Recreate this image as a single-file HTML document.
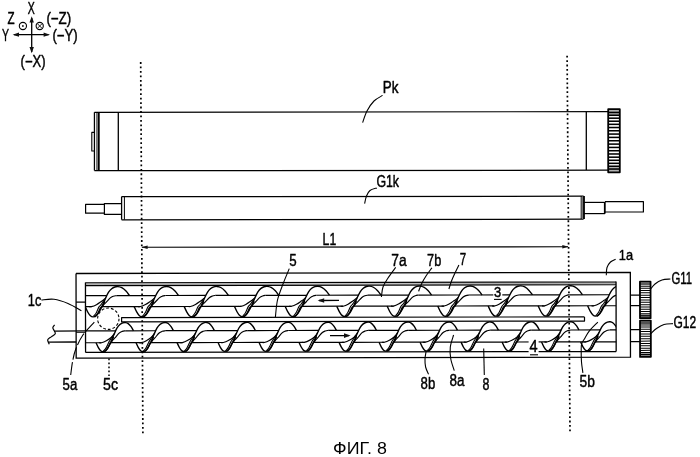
<!DOCTYPE html>
<html lang="ru"><head><meta charset="utf-8"><title>ФИГ. 8</title>
<style>
html,body{margin:0;padding:0;background:#fff;}
body{width:700px;height:457px;overflow:hidden;}
svg{display:block;filter:grayscale(1);}
svg *{vector-effect:none;}
.d{fill:none;stroke:#000;stroke-linecap:butt;stroke-linejoin:round;}
.d text{fill:#000;stroke:#000;stroke-width:0.45px;font-family:"Liberation Sans",sans-serif;}
</style></head><body>
<svg width="700" height="457" viewBox="0 0 700 457">
<rect x="0" y="0" width="700" height="457" fill="#fff"/>
<g class="d">
<line x1="31.7" y1="18" x2="31.7" y2="52" stroke-width="1.3" />
<path d="M31.7,16.3 L29.5,22.5 L33.9,22.5 Z" fill="#111" stroke="none"/>
<path d="M31.7,53.3 L29.5,47 L33.9,47 Z" fill="#111" stroke="none"/>
<line x1="14" y1="34.7" x2="48.5" y2="34.7" stroke-width="1.3" />
<path d="M12.6,34.7 L19,32.6 L19,36.8 Z" fill="#111" stroke="none"/>
<path d="M50,34.7 L43.6,32.6 L43.6,36.8 Z" fill="#111" stroke="none"/>
<circle cx="22.9" cy="26" r="3.6" stroke-width="1.1"/>
<circle cx="22.9" cy="26" r="0.9" fill="#111" stroke="none"/>
<circle cx="39.7" cy="26" r="3.6" stroke-width="1.1"/>
<line x1="37.5" y1="23.8" x2="41.9" y2="28.2" stroke-width="0.9" />
<line x1="37.5" y1="28.2" x2="41.9" y2="23.8" stroke-width="0.9" />
<text transform="translate(27.8,13.6) scale(0.646,1)" font-size="16.29">X</text>
<text transform="translate(7.4,24.2) scale(0.715,1)" font-size="16.29">Z</text>
<text transform="translate(46.4,24.2) scale(0.819,1)" font-size="16.29">(−Z)</text>
<text transform="translate(2.1,41.4) scale(0.646,1)" font-size="16.29">Y</text>
<text transform="translate(52.4,41.4) scale(0.808,1)" font-size="16.29">(−Y)</text>
<text transform="translate(20.6,66.5) scale(0.802,1)" font-size="16.29">(−X)</text>
<line x1="140.7" y1="62.1" x2="142.9" y2="434" stroke-width="1.7" stroke-dasharray="1.8 2.65"/>
<line x1="567.1" y1="55.7" x2="570" y2="432" stroke-width="1.7" stroke-dasharray="1.8 2.65"/>
<line x1="94.4" y1="112.3" x2="608" y2="111.6" stroke-width="1.2" />
<line x1="94.4" y1="170.7" x2="608" y2="170.2" stroke-width="1.2" />
<line x1="94.4" y1="112.3" x2="94.4" y2="170.6" stroke-width="1.2" />
<line x1="98.6" y1="112.3" x2="98.6" y2="170.6" stroke-width="2.2" />
<line x1="96.4" y1="112.3" x2="96.4" y2="170.6" stroke-width="0.6" />
<line x1="118.3" y1="112.3" x2="118.3" y2="170.5" stroke-width="1.3" />
<path d="M94.4,132.4 L91.8,132.4 L91.8,151 L94.4,151" stroke-width="1.1" />
<line x1="586.3" y1="111.8" x2="586.3" y2="170" stroke-width="1.3" />
<rect x="608.2" y="109.2" width="11.6" height="63.1" fill="#fff" stroke-width="1.8"/>
<line x1="608.2" y1="112.46" x2="619.8" y2="112.46" stroke-width="1.55" />
<line x1="608.2" y1="115.26" x2="619.8" y2="115.26" stroke-width="1.55" />
<line x1="608.2" y1="118.18" x2="619.8" y2="118.18" stroke-width="1.55" />
<line x1="608.2" y1="121.21" x2="619.8" y2="121.21" stroke-width="1.55" />
<line x1="608.2" y1="124.32" x2="619.8" y2="124.32" stroke-width="1.55" />
<line x1="608.2" y1="127.52" x2="619.8" y2="127.52" stroke-width="1.55" />
<line x1="608.2" y1="130.77" x2="619.8" y2="130.77" stroke-width="1.55" />
<line x1="608.2" y1="134.07" x2="619.8" y2="134.07" stroke-width="1.55" />
<line x1="608.2" y1="137.4" x2="619.8" y2="137.4" stroke-width="1.55" />
<line x1="608.2" y1="140.75" x2="619.8" y2="140.75" stroke-width="1.55" />
<line x1="608.2" y1="144.1" x2="619.8" y2="144.1" stroke-width="1.55" />
<line x1="608.2" y1="147.43" x2="619.8" y2="147.43" stroke-width="1.55" />
<line x1="608.2" y1="150.73" x2="619.8" y2="150.73" stroke-width="1.55" />
<line x1="608.2" y1="153.98" x2="619.8" y2="153.98" stroke-width="1.55" />
<line x1="608.2" y1="157.18" x2="619.8" y2="157.18" stroke-width="1.55" />
<line x1="608.2" y1="160.29" x2="619.8" y2="160.29" stroke-width="1.55" />
<line x1="608.2" y1="163.32" x2="619.8" y2="163.32" stroke-width="1.55" />
<line x1="608.2" y1="166.24" x2="619.8" y2="166.24" stroke-width="1.55" />
<line x1="608.2" y1="169.04" x2="619.8" y2="169.04" stroke-width="1.55" />
<rect x="608.2" y="109.2" width="11.6" height="6.31" fill="#000" stroke="none" opacity="0.3"/>
<rect x="608.2" y="165.99" width="11.6" height="6.31" fill="#000" stroke="none" opacity="0.3"/>
<text transform="translate(382.8,93.3) scale(0.824,1)" font-size="16.29">Pk</text>
<path d="M382.6,95.4 C381.17,96.33 376.6,98.4 374,101 C371.4,103.6 368.9,107.4 367,111 C365.1,114.6 363.33,120.67 362.6,122.6" stroke-width="1.1" />
<line x1="121.6" y1="196.7" x2="583.6" y2="196.2" stroke-width="1.3" />
<line x1="121.6" y1="219.8" x2="583.6" y2="219.2" stroke-width="1.3" />
<line x1="121.6" y1="196.6" x2="121.6" y2="219.7" stroke-width="1.3" />
<line x1="124.4" y1="196.6" x2="124.4" y2="219.7" stroke-width="1.0" />
<path d="M121.6,203.6 L104.4,203.6 L104.4,214.4 L121.6,214.4" stroke-width="1.2" />
<path d="M104.4,204.4 L85.6,204.4 L85.6,213.2 L104.4,213.2" stroke-width="1.2" />
<line x1="583.9" y1="196" x2="583.9" y2="219" stroke-width="2.0" />
<line x1="581.2" y1="196" x2="581.2" y2="219" stroke-width="1.0" />
<line x1="582.5" y1="196.5" x2="582.5" y2="218.8" stroke-width="1.2" stroke="#777"/>
<path d="M583.6,202.4 L605,202.4" stroke-width="1.2" />
<path d="M583.6,213.6 L605,213.6" stroke-width="1.2" />
<line x1="604.8" y1="202" x2="604.8" y2="213.6" stroke-width="1.8" />
<path d="M605,201.6 L643.4,201.6 L643.4,212 L605,212" stroke-width="1.2" />
<text transform="translate(376.4,187.2) scale(0.758,1)" font-size="16.29">G1k</text>
<path d="M376.9,187.9 C375.75,188.33 371.73,189.15 370,190.5 C368.27,191.85 367.4,193.82 366.5,196 C365.6,198.18 364.92,202.33 364.6,203.6" stroke-width="1.1" />
<line x1="142" y1="247.3" x2="568" y2="246.8" stroke-width="1.1" />
<path d="M141.4,247.3 L147.6,245.5 L147.6,249.1 Z" fill="#111" stroke="none"/>
<path d="M568.5,246.8 L562.3,245 L562.3,248.6 Z" fill="#111" stroke="none"/>
<text transform="translate(322.6,244.7) scale(0.752,1)" font-size="16.29">L1</text>
<g transform="rotate(-0.1 350 315)">
<path d="M76.1,273 L630.4,273 L630.4,357.7 L76.1,357.7 L76.1,273" stroke-width="1.3" stroke-linejoin="miter"/>
<line x1="85.5" y1="282.5" x2="616.1" y2="282.5" stroke-width="1.2" />
<line x1="85.5" y1="283.9" x2="616.1" y2="283.9" stroke-width="1.2" stroke="#b0b0b0"/>
<line x1="85.5" y1="285.2" x2="616.1" y2="285.2" stroke-width="1.1" />
<line x1="85.5" y1="282" x2="85.5" y2="352" stroke-width="1.3" />
<line x1="616.1" y1="282" x2="616.1" y2="352" stroke-width="1.3" />
<line x1="85.5" y1="352" x2="616.1" y2="352" stroke-width="1.3" />
<line x1="76.1" y1="301.6" x2="85.5" y2="301.6" stroke-width="1.2" />
<path d="M584.5,317.3 L121.6,317.3 L121.6,321.5 L584.5,321.5 L584.5,317.3" stroke-width="1.2" />
<circle cx="108.3" cy="318.3" r="10.7" stroke-width="1.1" stroke-dasharray="2.8 2"/>
<clipPath id="ci"><rect x="85.5" y="282" width="530.6" height="71"/></clipPath>
<g clip-path="url(#ci)">
<path d="M85.2,306.2 C85.64,307.13 86.98,310.28 87.85,311.81 C88.72,313.34 89.57,314.62 90.43,315.38 C91.28,316.14 92.05,316.4 93,316.4 C93.95,316.4 95.08,316.23 96.12,315.37 C97.17,314.52 98.21,312.96 99.25,311.27 C100.29,309.57 101.33,307.44 102.38,305.23 C103.42,303.01 104.46,300.22 105.5,297.98 C106.54,295.74 107.58,293.41 108.62,291.79 C109.67,290.17 110.71,289.12 111.75,288.25 C112.79,287.38 113.83,286.9 114.88,286.56 C115.92,286.22 116.85,286.08 118,286.2 C119.15,286.32 120.45,286.53 121.8,287.28 C123.14,288.03 124.77,289.38 126.05,290.7 C127.33,292.02 128.93,294.45 129.5,295.2" stroke-width="1.4" />
<path d="M94.6,316.6 C95.1,316.06 96.62,314.92 97.6,313.38 C98.58,311.84 99.64,308.62 100.5,307.34 C101.36,306.06 102.07,306.81 102.77,305.7 C103.48,304.59 104.4,301.53 104.73,300.7" stroke-width="1.4" />
<path d="M93.6,315.8 C94.03,315.25 95.3,314.03 96.2,312.47 C97.1,310.91 98.19,307.81 99,306.43 C99.81,305.05 100.23,305.32 101.07,304.2 C101.91,303.08 103.53,300.45 104.03,299.7" stroke-width="1.1" />
<path d="M103.07,304.7 C103.58,304.23 104.92,303.1 106.13,301.9 C107.33,300.7 109.09,298.52 110.3,297.5 C111.51,296.48 112.39,296.18 113.4,295.8 C114.42,295.42 115.9,295.3 116.4,295.2" stroke-width="1.15" />
<line x1="116.4" y1="295.2" x2="155.9" y2="295.2" stroke-width="1.2" />
<line x1="101.87" y1="306.2" x2="140.5" y2="306.2" stroke-width="1.2" />
<path d="M138,306.2 C138.42,306.2 139.25,306.53 140.5,306.2 C141.75,305.87 143.87,305.07 145.5,304.2 C147.13,303.33 148.78,302.08 150.3,301 C151.82,299.92 153.92,298.25 154.64,297.7" stroke-width="1.15" />
<path d="M134.2,306.2 C134.64,307.13 135.98,310.28 136.85,311.81 C137.72,313.34 138.57,314.62 139.43,315.38 C140.28,316.14 141.05,316.4 142,316.4 C142.95,316.4 144.08,316.23 145.12,315.37 C146.17,314.52 147.21,312.96 148.25,311.27 C149.29,309.57 150.33,307.44 151.38,305.23 C152.42,303.01 153.46,300.22 154.5,297.98 C155.54,295.74 156.58,293.41 157.62,291.79 C158.67,290.17 159.71,289.12 160.75,288.25 C161.79,287.38 162.83,286.9 163.88,286.56 C164.92,286.22 165.85,286.08 167,286.2 C168.15,286.32 169.45,286.53 170.79,287.28 C172.14,288.03 173.77,289.38 175.05,290.7 C176.33,292.02 177.93,294.45 178.5,295.2" stroke-width="1.4" />
<path d="M143.6,316.6 C144.1,316.06 145.62,314.92 146.6,313.38 C147.58,311.84 148.64,308.62 149.5,307.34 C150.36,306.06 151.07,306.81 151.77,305.7 C152.48,304.59 153.4,301.53 153.73,300.7" stroke-width="1.4" />
<path d="M142.6,315.8 C143.03,315.25 144.3,314.03 145.2,312.47 C146.1,310.91 147.19,307.81 148,306.43 C148.81,305.05 149.23,305.32 150.07,304.2 C150.91,303.08 152.53,300.45 153.03,299.7" stroke-width="1.1" />
<path d="M152.07,304.7 C152.58,304.23 153.92,303.1 155.13,301.9 C156.33,300.7 158.09,298.52 159.3,297.5 C160.51,296.48 161.39,296.18 162.4,295.8 C163.42,295.42 164.9,295.3 165.4,295.2" stroke-width="1.15" />
<line x1="165.4" y1="295.2" x2="205.9" y2="295.2" stroke-width="1.2" />
<line x1="150.87" y1="306.2" x2="190.5" y2="306.2" stroke-width="1.2" />
<path d="M188,306.2 C188.42,306.2 189.25,306.53 190.5,306.2 C191.75,305.87 193.87,305.07 195.5,304.2 C197.13,303.33 198.78,302.08 200.3,301 C201.82,299.92 203.92,298.25 204.64,297.7" stroke-width="1.15" />
<path d="M184.2,306.2 C184.64,307.13 185.98,310.28 186.85,311.81 C187.72,313.34 188.57,314.62 189.43,315.38 C190.28,316.14 191.05,316.4 192,316.4 C192.95,316.4 194.08,316.23 195.12,315.37 C196.17,314.52 197.21,312.96 198.25,311.27 C199.29,309.57 200.33,307.44 201.38,305.23 C202.42,303.01 203.46,300.22 204.5,297.98 C205.54,295.74 206.58,293.41 207.62,291.79 C208.67,290.17 209.71,289.12 210.75,288.25 C211.79,287.38 212.83,286.9 213.88,286.56 C214.92,286.22 215.85,286.08 217,286.2 C218.15,286.32 219.45,286.53 220.79,287.28 C222.14,288.03 223.77,289.38 225.05,290.7 C226.33,292.02 227.93,294.45 228.5,295.2" stroke-width="1.4" />
<path d="M193.6,316.6 C194.1,316.06 195.62,314.92 196.6,313.38 C197.58,311.84 198.64,308.62 199.5,307.34 C200.36,306.06 201.07,306.81 201.77,305.7 C202.48,304.59 203.4,301.53 203.73,300.7" stroke-width="1.4" />
<path d="M192.6,315.8 C193.03,315.25 194.3,314.03 195.2,312.47 C196.1,310.91 197.19,307.81 198,306.43 C198.81,305.05 199.23,305.32 200.07,304.2 C200.91,303.08 202.53,300.45 203.03,299.7" stroke-width="1.1" />
<path d="M202.07,304.7 C202.58,304.23 203.92,303.1 205.13,301.9 C206.33,300.7 208.09,298.52 209.3,297.5 C210.51,296.48 211.39,296.18 212.4,295.8 C213.42,295.42 214.9,295.3 215.4,295.2" stroke-width="1.15" />
<line x1="215.4" y1="295.2" x2="256.2" y2="295.2" stroke-width="1.2" />
<line x1="200.87" y1="306.2" x2="240.8" y2="306.2" stroke-width="1.2" />
<path d="M238.3,306.2 C238.72,306.2 239.55,306.53 240.8,306.2 C242.05,305.87 244.17,305.07 245.8,304.2 C247.43,303.33 249.08,302.08 250.6,301 C252.12,299.92 254.22,298.25 254.94,297.7" stroke-width="1.15" />
<path d="M234.5,306.2 C234.94,307.13 236.28,310.28 237.15,311.81 C238.02,313.34 238.87,314.62 239.73,315.38 C240.58,316.14 241.35,316.4 242.3,316.4 C243.25,316.4 244.38,316.23 245.43,315.37 C246.47,314.52 247.51,312.96 248.55,311.27 C249.59,309.57 250.63,307.44 251.68,305.23 C252.72,303.01 253.76,300.22 254.8,297.98 C255.84,295.74 256.88,293.41 257.93,291.79 C258.97,290.17 260.01,289.12 261.05,288.25 C262.09,287.38 263.13,286.9 264.18,286.56 C265.22,286.22 266.15,286.08 267.3,286.2 C268.45,286.32 269.75,286.53 271.1,287.28 C272.44,288.03 274.07,289.38 275.35,290.7 C276.63,292.02 278.23,294.45 278.8,295.2" stroke-width="1.4" />
<path d="M243.9,316.6 C244.4,316.06 245.92,314.92 246.9,313.38 C247.88,311.84 248.94,308.62 249.8,307.34 C250.66,306.06 251.37,306.81 252.07,305.7 C252.78,304.59 253.7,301.53 254.03,300.7" stroke-width="1.4" />
<path d="M242.9,315.8 C243.33,315.25 244.6,314.03 245.5,312.47 C246.4,310.91 247.49,307.81 248.3,306.43 C249.11,305.05 249.53,305.32 250.37,304.2 C251.21,303.08 252.83,300.45 253.33,299.7" stroke-width="1.1" />
<path d="M252.37,304.7 C252.88,304.23 254.22,303.1 255.43,301.9 C256.63,300.7 258.39,298.52 259.6,297.5 C260.81,296.48 261.69,296.18 262.7,295.8 C263.72,295.42 265.2,295.3 265.7,295.2" stroke-width="1.15" />
<line x1="265.7" y1="295.2" x2="306.9" y2="295.2" stroke-width="1.2" />
<line x1="251.17" y1="306.2" x2="291.5" y2="306.2" stroke-width="1.2" />
<path d="M289,306.2 C289.42,306.2 290.25,306.53 291.5,306.2 C292.75,305.87 294.87,305.07 296.5,304.2 C298.13,303.33 299.78,302.08 301.3,301 C302.82,299.92 304.92,298.25 305.64,297.7" stroke-width="1.15" />
<path d="M285.2,306.2 C285.64,307.13 286.98,310.28 287.85,311.81 C288.72,313.34 289.57,314.62 290.43,315.38 C291.28,316.14 292.05,316.4 293,316.4 C293.95,316.4 295.08,316.23 296.12,315.37 C297.17,314.52 298.21,312.96 299.25,311.27 C300.29,309.57 301.33,307.44 302.38,305.23 C303.42,303.01 304.46,300.22 305.5,297.98 C306.54,295.74 307.58,293.41 308.62,291.79 C309.67,290.17 310.71,289.12 311.75,288.25 C312.79,287.38 313.83,286.9 314.88,286.56 C315.92,286.22 316.85,286.08 318,286.2 C319.15,286.32 320.45,286.53 321.8,287.28 C323.14,288.03 324.77,289.38 326.05,290.7 C327.33,292.02 328.93,294.45 329.5,295.2" stroke-width="1.4" />
<path d="M294.6,316.6 C295.1,316.06 296.62,314.92 297.6,313.38 C298.58,311.84 299.64,308.62 300.5,307.34 C301.36,306.06 302.07,306.81 302.77,305.7 C303.48,304.59 304.4,301.53 304.73,300.7" stroke-width="1.4" />
<path d="M293.6,315.8 C294.03,315.25 295.3,314.03 296.2,312.47 C297.1,310.91 298.19,307.81 299,306.43 C299.81,305.05 300.23,305.32 301.07,304.2 C301.91,303.08 303.53,300.45 304.03,299.7" stroke-width="1.1" />
<path d="M303.07,304.7 C303.58,304.23 304.92,303.1 306.13,301.9 C307.33,300.7 309.09,298.52 310.3,297.5 C311.51,296.48 312.39,296.18 313.4,295.8 C314.42,295.42 315.9,295.3 316.4,295.2" stroke-width="1.15" />
<line x1="316.4" y1="295.2" x2="358.5" y2="295.2" stroke-width="1.2" />
<line x1="301.87" y1="306.2" x2="343.1" y2="306.2" stroke-width="1.2" />
<path d="M340.6,306.2 C341.02,306.2 341.85,306.53 343.1,306.2 C344.35,305.87 346.47,305.07 348.1,304.2 C349.73,303.33 351.38,302.08 352.9,301 C354.42,299.92 356.52,298.25 357.24,297.7" stroke-width="1.15" />
<path d="M336.8,306.2 C337.24,307.13 338.58,310.28 339.45,311.81 C340.32,313.34 341.17,314.62 342.03,315.38 C342.88,316.14 343.65,316.4 344.6,316.4 C345.55,316.4 346.68,316.23 347.73,315.37 C348.77,314.52 349.81,312.96 350.85,311.27 C351.89,309.57 352.93,307.44 353.98,305.23 C355.02,303.01 356.06,300.22 357.1,297.98 C358.14,295.74 359.18,293.41 360.23,291.79 C361.27,290.17 362.31,289.12 363.35,288.25 C364.39,287.38 365.43,286.9 366.48,286.56 C367.52,286.22 368.45,286.08 369.6,286.2 C370.75,286.32 372.05,286.53 373.4,287.28 C374.74,288.03 376.37,289.38 377.65,290.7 C378.93,292.02 380.53,294.45 381.1,295.2" stroke-width="1.4" />
<path d="M346.2,316.6 C346.7,316.06 348.22,314.92 349.2,313.38 C350.18,311.84 351.24,308.62 352.1,307.34 C352.96,306.06 353.67,306.81 354.37,305.7 C355.08,304.59 356,301.53 356.33,300.7" stroke-width="1.4" />
<path d="M345.2,315.8 C345.63,315.25 346.9,314.03 347.8,312.47 C348.7,310.91 349.79,307.81 350.6,306.43 C351.41,305.05 351.83,305.32 352.67,304.2 C353.51,303.08 355.13,300.45 355.63,299.7" stroke-width="1.1" />
<path d="M354.67,304.7 C355.18,304.23 356.52,303.1 357.73,301.9 C358.93,300.7 360.69,298.52 361.9,297.5 C363.11,296.48 363.99,296.18 365,295.8 C366.02,295.42 367.5,295.3 368,295.2" stroke-width="1.15" />
<line x1="368" y1="295.2" x2="408.9" y2="295.2" stroke-width="1.2" />
<line x1="353.47" y1="306.2" x2="393.5" y2="306.2" stroke-width="1.2" />
<path d="M391,306.2 C391.42,306.2 392.25,306.53 393.5,306.2 C394.75,305.87 396.87,305.07 398.5,304.2 C400.13,303.33 401.78,302.08 403.3,301 C404.82,299.92 406.92,298.25 407.64,297.7" stroke-width="1.15" />
<path d="M387.2,306.2 C387.64,307.13 388.98,310.28 389.85,311.81 C390.72,313.34 391.57,314.62 392.43,315.38 C393.28,316.14 394.05,316.4 395,316.4 C395.95,316.4 397.08,316.23 398.12,315.37 C399.17,314.52 400.21,312.96 401.25,311.27 C402.29,309.57 403.33,307.44 404.38,305.23 C405.42,303.01 406.46,300.22 407.5,297.98 C408.54,295.74 409.58,293.41 410.62,291.79 C411.67,290.17 412.71,289.12 413.75,288.25 C414.79,287.38 415.83,286.9 416.88,286.56 C417.92,286.22 418.85,286.08 420,286.2 C421.15,286.32 422.45,286.53 423.8,287.28 C425.14,288.03 426.77,289.38 428.05,290.7 C429.33,292.02 430.93,294.45 431.5,295.2" stroke-width="1.4" />
<path d="M396.6,316.6 C397.1,316.06 398.62,314.92 399.6,313.38 C400.58,311.84 401.64,308.62 402.5,307.34 C403.36,306.06 404.07,306.81 404.77,305.7 C405.48,304.59 406.4,301.53 406.73,300.7" stroke-width="1.4" />
<path d="M395.6,315.8 C396.03,315.25 397.3,314.03 398.2,312.47 C399.1,310.91 400.19,307.81 401,306.43 C401.81,305.05 402.23,305.32 403.07,304.2 C403.91,303.08 405.53,300.45 406.03,299.7" stroke-width="1.1" />
<path d="M405.07,304.7 C405.58,304.23 406.92,303.1 408.13,301.9 C409.33,300.7 411.09,298.52 412.3,297.5 C413.51,296.48 414.39,296.18 415.4,295.8 C416.42,295.42 417.9,295.3 418.4,295.2" stroke-width="1.15" />
<line x1="418.4" y1="295.2" x2="459.5" y2="295.2" stroke-width="1.2" />
<line x1="403.87" y1="306.2" x2="444.1" y2="306.2" stroke-width="1.2" />
<path d="M441.6,306.2 C442.02,306.2 442.85,306.53 444.1,306.2 C445.35,305.87 447.47,305.07 449.1,304.2 C450.73,303.33 452.38,302.08 453.9,301 C455.42,299.92 457.52,298.25 458.24,297.7" stroke-width="1.15" />
<path d="M437.8,306.2 C438.24,307.13 439.58,310.28 440.45,311.81 C441.32,313.34 442.17,314.62 443.03,315.38 C443.88,316.14 444.65,316.4 445.6,316.4 C446.55,316.4 447.68,316.23 448.73,315.37 C449.77,314.52 450.81,312.96 451.85,311.27 C452.89,309.57 453.93,307.44 454.98,305.23 C456.02,303.01 457.06,300.22 458.1,297.98 C459.14,295.74 460.18,293.41 461.23,291.79 C462.27,290.17 463.31,289.12 464.35,288.25 C465.39,287.38 466.43,286.9 467.48,286.56 C468.52,286.22 469.45,286.08 470.6,286.2 C471.75,286.32 473.05,286.53 474.4,287.28 C475.74,288.03 477.37,289.38 478.65,290.7 C479.93,292.02 481.53,294.45 482.1,295.2" stroke-width="1.4" />
<path d="M447.2,316.6 C447.7,316.06 449.22,314.92 450.2,313.38 C451.18,311.84 452.24,308.62 453.1,307.34 C453.96,306.06 454.67,306.81 455.37,305.7 C456.08,304.59 457,301.53 457.33,300.7" stroke-width="1.4" />
<path d="M446.2,315.8 C446.63,315.25 447.9,314.03 448.8,312.47 C449.7,310.91 450.79,307.81 451.6,306.43 C452.41,305.05 452.83,305.32 453.67,304.2 C454.51,303.08 456.13,300.45 456.63,299.7" stroke-width="1.1" />
<path d="M455.67,304.7 C456.18,304.23 457.52,303.1 458.73,301.9 C459.93,300.7 461.69,298.52 462.9,297.5 C464.11,296.48 464.99,296.18 466,295.8 C467.02,295.42 468.5,295.3 469,295.2" stroke-width="1.15" />
<line x1="469" y1="295.2" x2="509.9" y2="295.2" stroke-width="1.2" />
<line x1="454.47" y1="306.2" x2="494.5" y2="306.2" stroke-width="1.2" />
<path d="M492,306.2 C492.42,306.2 493.25,306.53 494.5,306.2 C495.75,305.87 497.87,305.07 499.5,304.2 C501.13,303.33 502.78,302.08 504.3,301 C505.82,299.92 507.92,298.25 508.64,297.7" stroke-width="1.15" />
<path d="M488.2,306.2 C488.64,307.13 489.98,310.28 490.85,311.81 C491.72,313.34 492.57,314.62 493.43,315.38 C494.28,316.14 495.05,316.4 496,316.4 C496.95,316.4 498.08,316.23 499.12,315.37 C500.17,314.52 501.21,312.96 502.25,311.27 C503.29,309.57 504.33,307.44 505.38,305.23 C506.42,303.01 507.46,300.22 508.5,297.98 C509.54,295.74 510.58,293.41 511.62,291.79 C512.67,290.17 513.71,289.12 514.75,288.25 C515.79,287.38 516.83,286.9 517.88,286.56 C518.92,286.22 519.85,286.08 521,286.2 C522.15,286.32 523.45,286.53 524.79,287.28 C526.14,288.03 527.77,289.38 529.05,290.7 C530.33,292.02 531.92,294.45 532.5,295.2" stroke-width="1.4" />
<path d="M497.6,316.6 C498.1,316.06 499.62,314.92 500.6,313.38 C501.58,311.84 502.64,308.62 503.5,307.34 C504.36,306.06 505.07,306.81 505.77,305.7 C506.48,304.59 507.4,301.53 507.73,300.7" stroke-width="1.4" />
<path d="M496.6,315.8 C497.03,315.25 498.3,314.03 499.2,312.47 C500.1,310.91 501.19,307.81 502,306.43 C502.81,305.05 503.23,305.32 504.07,304.2 C504.91,303.08 506.53,300.45 507.03,299.7" stroke-width="1.1" />
<path d="M506.07,304.7 C506.58,304.23 507.92,303.1 509.13,301.9 C510.33,300.7 512.09,298.52 513.3,297.5 C514.51,296.48 515.39,296.18 516.4,295.8 C517.42,295.42 518.9,295.3 519.4,295.2" stroke-width="1.15" />
<line x1="519.4" y1="295.2" x2="559.9" y2="295.2" stroke-width="1.2" />
<line x1="504.87" y1="306.2" x2="544.5" y2="306.2" stroke-width="1.2" />
<path d="M542,306.2 C542.42,306.2 543.25,306.53 544.5,306.2 C545.75,305.87 547.87,305.07 549.5,304.2 C551.13,303.33 552.78,302.08 554.3,301 C555.82,299.92 557.92,298.25 558.64,297.7" stroke-width="1.15" />
<path d="M538.2,306.2 C538.64,307.13 539.98,310.28 540.85,311.81 C541.72,313.34 542.57,314.62 543.43,315.38 C544.28,316.14 545.05,316.4 546,316.4 C546.95,316.4 548.08,316.23 549.12,315.37 C550.17,314.52 551.21,312.96 552.25,311.27 C553.29,309.57 554.33,307.44 555.38,305.23 C556.42,303.01 557.46,300.22 558.5,297.98 C559.54,295.74 560.58,293.41 561.62,291.79 C562.67,290.17 563.71,289.12 564.75,288.25 C565.79,287.38 566.83,286.9 567.88,286.56 C568.92,286.22 569.85,286.08 571,286.2 C572.15,286.32 573.45,286.53 574.79,287.28 C576.14,288.03 577.77,289.38 579.05,290.7 C580.33,292.02 581.92,294.45 582.5,295.2" stroke-width="1.4" />
<path d="M547.6,316.6 C548.1,316.06 549.62,314.92 550.6,313.38 C551.58,311.84 552.64,308.62 553.5,307.34 C554.36,306.06 555.07,306.81 555.77,305.7 C556.48,304.59 557.4,301.53 557.73,300.7" stroke-width="1.4" />
<path d="M546.6,315.8 C547.03,315.25 548.3,314.03 549.2,312.47 C550.1,310.91 551.19,307.81 552,306.43 C552.81,305.05 553.23,305.32 554.07,304.2 C554.91,303.08 556.53,300.45 557.03,299.7" stroke-width="1.1" />
<path d="M556.07,304.7 C556.58,304.23 557.92,303.1 559.13,301.9 C560.33,300.7 562.09,298.52 563.3,297.5 C564.51,296.48 565.39,296.18 566.4,295.8 C567.42,295.42 568.9,295.3 569.4,295.2" stroke-width="1.15" />
<line x1="569.4" y1="295.2" x2="609.4" y2="295.2" stroke-width="1.2" />
<line x1="554.87" y1="306.2" x2="594" y2="306.2" stroke-width="1.2" />
<path d="M591.5,306.2 C591.92,306.2 592.75,306.53 594,306.2 C595.25,305.87 597.37,305.07 599,304.2 C600.63,303.33 602.28,302.08 603.8,301 C605.32,299.92 607.42,298.25 608.14,297.7" stroke-width="1.15" />
<path d="M587.7,306.2 C588.14,307.13 589.48,310.28 590.35,311.81 C591.22,313.34 592.07,314.62 592.93,315.38 C593.78,316.14 594.55,316.4 595.5,316.4 C596.45,316.4 597.58,316.23 598.62,315.37 C599.67,314.52 600.71,312.96 601.75,311.27 C602.79,309.57 603.83,307.44 604.88,305.23 C605.92,303.01 606.96,300.22 608,297.98 C609.04,295.74 610.08,293.41 611.12,291.79 C612.17,290.17 613.21,289.12 614.25,288.25 C615.29,287.38 616.33,286.9 617.38,286.56 C618.42,286.22 619.35,286.08 620.5,286.2 C621.65,286.32 622.95,286.53 624.29,287.28 C625.64,288.03 627.27,289.38 628.55,290.7 C629.83,292.02 631.42,294.45 632,295.2" stroke-width="1.4" />
<path d="M597.1,316.6 C597.6,316.06 599.12,314.92 600.1,313.38 C601.08,311.84 602.14,308.62 603,307.34 C603.86,306.06 604.57,306.81 605.27,305.7 C605.98,304.59 606.9,301.53 607.23,300.7" stroke-width="1.4" />
<path d="M596.1,315.8 C596.53,315.25 597.8,314.03 598.7,312.47 C599.6,310.91 600.69,307.81 601.5,306.43 C602.31,305.05 602.73,305.32 603.57,304.2 C604.41,303.08 606.03,300.45 606.53,299.7" stroke-width="1.1" />
<path d="M605.57,304.7 C606.08,304.23 607.42,303.1 608.63,301.9 C609.83,300.7 611.59,298.52 612.8,297.5 C614.01,296.48 614.89,296.18 615.9,295.8 C616.92,295.42 618.4,295.3 618.9,295.2" stroke-width="1.15" />
<line x1="618.9" y1="295.2" x2="621.1" y2="295.2" stroke-width="1.2" />
<line x1="604.37" y1="306.2" x2="619.1" y2="306.2" stroke-width="1.2" />
<line x1="85.5" y1="295.2" x2="106.9" y2="295.2" stroke-width="1.2" />
<line x1="85.5" y1="306.2" x2="91.5" y2="306.2" stroke-width="1.2" />
<path d="M89,306.2 C89.42,306.2 90.25,306.53 91.5,306.2 C92.75,305.87 94.87,305.07 96.5,304.2 C98.13,303.33 99.78,302.08 101.3,301 C102.82,299.92 104.92,298.25 105.64,297.7" stroke-width="1.15" />
<path d="M96,342.3 C96.39,343.12 97.55,345.86 98.31,347.19 C99.07,348.53 99.81,349.64 100.56,350.31 C101.3,350.98 101.95,351.22 102.8,351.2 C103.65,351.18 104.7,351.04 105.65,350.21 C106.6,349.39 107.55,347.89 108.5,346.27 C109.45,344.65 110.4,342.6 111.35,340.47 C112.3,338.34 113.25,335.66 114.2,333.51 C115.15,331.36 116.1,329.12 117.05,327.56 C118,326.01 118.95,325.01 119.9,324.17 C120.85,323.34 121.8,322.88 122.75,322.55 C123.7,322.22 124.7,322.09 125.6,322.2 C126.5,322.31 127.26,322.5 128.17,323.18 C129.08,323.87 130.19,325.1 131.06,326.3 C131.93,327.5 133.01,329.72 133.4,330.4" stroke-width="1.4" />
<path d="M104.4,351.4 C104.9,350.88 106.42,349.78 107.4,348.3 C108.38,346.82 109.64,343.58 110.3,342.5 C110.96,341.42 110.83,342.82 111.35,341.8 C111.87,340.78 113.09,337.26 113.44,336.35" stroke-width="1.4" />
<path d="M103.4,350.6 C103.83,350.07 105.1,348.93 106,347.43 C106.9,345.94 108.19,342.82 108.8,341.63 C109.41,340.44 108.99,341.35 109.65,340.3 C110.31,339.25 112.22,336.18 112.74,335.35" stroke-width="1.1" />
<path d="M111.65,340.8 C112.18,340.26 113.6,338.9 114.84,337.55 C116.08,336.2 117.87,333.79 119.09,332.7 C120.32,331.61 121.17,331.38 122.19,331 C123.21,330.62 124.69,330.5 125.19,330.4" stroke-width="1.15" />
<line x1="125.19" y1="330.4" x2="155.69" y2="330.4" stroke-width="1.2" />
<line x1="110.45" y1="342.3" x2="141.3" y2="342.3" stroke-width="1.2" />
<path d="M138.8,342.3 C139.22,342.3 140.05,342.63 141.3,342.3 C142.55,341.97 144.67,341.17 146.3,340.3 C147.93,339.43 149.73,338.33 151.1,337.1 C152.47,335.87 153.93,333.6 154.49,332.9" stroke-width="1.15" />
<path d="M136,342.3 C136.39,343.12 137.55,345.86 138.31,347.19 C139.07,348.53 139.81,349.64 140.56,350.31 C141.3,350.98 141.95,351.22 142.8,351.2 C143.65,351.18 144.7,351.04 145.65,350.21 C146.6,349.39 147.55,347.89 148.5,346.27 C149.45,344.65 150.4,342.6 151.35,340.47 C152.3,338.34 153.25,335.66 154.2,333.51 C155.15,331.36 156.1,329.12 157.05,327.56 C158,326.01 158.95,325.01 159.9,324.17 C160.85,323.34 161.8,322.88 162.75,322.55 C163.7,322.22 164.7,322.09 165.6,322.2 C166.5,322.31 167.26,322.5 168.17,323.18 C169.08,323.87 170.19,325.1 171.06,326.3 C171.93,327.5 173.01,329.72 173.4,330.4" stroke-width="1.4" />
<path d="M144.4,351.4 C144.9,350.88 146.42,349.78 147.4,348.3 C148.38,346.82 149.64,343.58 150.3,342.5 C150.96,341.42 150.83,342.82 151.35,341.8 C151.87,340.78 153.09,337.26 153.44,336.35" stroke-width="1.4" />
<path d="M143.4,350.6 C143.83,350.07 145.1,348.93 146,347.43 C146.9,345.94 148.19,342.82 148.8,341.63 C149.41,340.44 148.99,341.35 149.65,340.3 C150.31,339.25 152.22,336.18 152.74,335.35" stroke-width="1.1" />
<path d="M151.65,340.8 C152.18,340.26 153.6,338.9 154.84,337.55 C156.08,336.2 157.87,333.79 159.09,332.7 C160.32,331.61 161.17,331.38 162.19,331 C163.21,330.62 164.69,330.5 165.19,330.4" stroke-width="1.15" />
<line x1="165.19" y1="330.4" x2="196.69" y2="330.4" stroke-width="1.2" />
<line x1="150.45" y1="342.3" x2="182.3" y2="342.3" stroke-width="1.2" />
<path d="M179.8,342.3 C180.22,342.3 181.05,342.63 182.3,342.3 C183.55,341.97 185.67,341.17 187.3,340.3 C188.93,339.43 190.73,338.33 192.1,337.1 C193.47,335.87 194.93,333.6 195.49,332.9" stroke-width="1.15" />
<path d="M177,342.3 C177.39,343.12 178.55,345.86 179.31,347.19 C180.07,348.53 180.81,349.64 181.56,350.31 C182.3,350.98 182.95,351.22 183.8,351.2 C184.65,351.18 185.7,351.04 186.65,350.21 C187.6,349.39 188.55,347.89 189.5,346.27 C190.45,344.65 191.4,342.6 192.35,340.47 C193.3,338.34 194.25,335.66 195.2,333.51 C196.15,331.36 197.1,329.12 198.05,327.56 C199,326.01 199.95,325.01 200.9,324.17 C201.85,323.34 202.8,322.88 203.75,322.55 C204.7,322.22 205.7,322.09 206.6,322.2 C207.5,322.31 208.26,322.5 209.17,323.18 C210.08,323.87 211.19,325.1 212.06,326.3 C212.93,327.5 214.01,329.72 214.4,330.4" stroke-width="1.4" />
<path d="M185.4,351.4 C185.9,350.88 187.42,349.78 188.4,348.3 C189.38,346.82 190.64,343.58 191.3,342.5 C191.96,341.42 191.83,342.82 192.35,341.8 C192.87,340.78 194.09,337.26 194.44,336.35" stroke-width="1.4" />
<path d="M184.4,350.6 C184.83,350.07 186.1,348.93 187,347.43 C187.9,345.94 189.19,342.82 189.8,341.63 C190.41,340.44 189.99,341.35 190.65,340.3 C191.31,339.25 193.22,336.18 193.74,335.35" stroke-width="1.1" />
<path d="M192.65,340.8 C193.18,340.26 194.6,338.9 195.84,337.55 C197.08,336.2 198.87,333.79 200.09,332.7 C201.32,331.61 202.17,331.38 203.19,331 C204.21,330.62 205.69,330.5 206.19,330.4" stroke-width="1.15" />
<line x1="206.19" y1="330.4" x2="237.69" y2="330.4" stroke-width="1.2" />
<line x1="191.45" y1="342.3" x2="223.3" y2="342.3" stroke-width="1.2" />
<path d="M220.8,342.3 C221.22,342.3 222.05,342.63 223.3,342.3 C224.55,341.97 226.67,341.17 228.3,340.3 C229.93,339.43 231.73,338.33 233.1,337.1 C234.47,335.87 235.93,333.6 236.49,332.9" stroke-width="1.15" />
<path d="M218,342.3 C218.39,343.12 219.55,345.86 220.31,347.19 C221.07,348.53 221.81,349.64 222.56,350.31 C223.3,350.98 223.95,351.22 224.8,351.2 C225.65,351.18 226.7,351.04 227.65,350.21 C228.6,349.39 229.55,347.89 230.5,346.27 C231.45,344.65 232.4,342.6 233.35,340.47 C234.3,338.34 235.25,335.66 236.2,333.51 C237.15,331.36 238.1,329.12 239.05,327.56 C240,326.01 240.95,325.01 241.9,324.17 C242.85,323.34 243.8,322.88 244.75,322.55 C245.7,322.22 246.7,322.09 247.6,322.2 C248.5,322.31 249.26,322.5 250.17,323.18 C251.08,323.87 252.19,325.1 253.06,326.3 C253.93,327.5 255.01,329.72 255.4,330.4" stroke-width="1.4" />
<path d="M226.4,351.4 C226.9,350.88 228.42,349.78 229.4,348.3 C230.38,346.82 231.64,343.58 232.3,342.5 C232.96,341.42 232.83,342.82 233.35,341.8 C233.87,340.78 235.09,337.26 235.44,336.35" stroke-width="1.4" />
<path d="M225.4,350.6 C225.83,350.07 227.1,348.93 228,347.43 C228.9,345.94 230.19,342.82 230.8,341.63 C231.41,340.44 230.99,341.35 231.65,340.3 C232.31,339.25 234.22,336.18 234.74,335.35" stroke-width="1.1" />
<path d="M233.65,340.8 C234.18,340.26 235.6,338.9 236.84,337.55 C238.08,336.2 239.87,333.79 241.09,332.7 C242.32,331.61 243.17,331.38 244.19,331 C245.21,330.62 246.69,330.5 247.19,330.4" stroke-width="1.15" />
<line x1="247.19" y1="330.4" x2="278.69" y2="330.4" stroke-width="1.2" />
<line x1="232.45" y1="342.3" x2="264.3" y2="342.3" stroke-width="1.2" />
<path d="M261.8,342.3 C262.22,342.3 263.05,342.63 264.3,342.3 C265.55,341.97 267.67,341.17 269.3,340.3 C270.93,339.43 272.73,338.33 274.1,337.1 C275.47,335.87 276.93,333.6 277.49,332.9" stroke-width="1.15" />
<path d="M259,342.3 C259.39,343.12 260.55,345.86 261.31,347.19 C262.07,348.53 262.81,349.64 263.56,350.31 C264.3,350.98 264.95,351.22 265.8,351.2 C266.65,351.18 267.7,351.04 268.65,350.21 C269.6,349.39 270.55,347.89 271.5,346.27 C272.45,344.65 273.4,342.6 274.35,340.47 C275.3,338.34 276.25,335.66 277.2,333.51 C278.15,331.36 279.1,329.12 280.05,327.56 C281,326.01 281.95,325.01 282.9,324.17 C283.85,323.34 284.8,322.88 285.75,322.55 C286.7,322.22 287.7,322.09 288.6,322.2 C289.5,322.31 290.26,322.5 291.17,323.18 C292.08,323.87 293.19,325.1 294.06,326.3 C294.93,327.5 296.01,329.72 296.4,330.4" stroke-width="1.4" />
<path d="M267.4,351.4 C267.9,350.88 269.42,349.78 270.4,348.3 C271.38,346.82 272.64,343.58 273.3,342.5 C273.96,341.42 273.83,342.82 274.35,341.8 C274.87,340.78 276.09,337.26 276.44,336.35" stroke-width="1.4" />
<path d="M266.4,350.6 C266.83,350.07 268.1,348.93 269,347.43 C269.9,345.94 271.19,342.82 271.8,341.63 C272.41,340.44 271.99,341.35 272.65,340.3 C273.31,339.25 275.22,336.18 275.74,335.35" stroke-width="1.1" />
<path d="M274.65,340.8 C275.18,340.26 276.6,338.9 277.84,337.55 C279.08,336.2 280.87,333.79 282.09,332.7 C283.32,331.61 284.17,331.38 285.19,331 C286.21,330.62 287.69,330.5 288.19,330.4" stroke-width="1.15" />
<line x1="288.19" y1="330.4" x2="318.69" y2="330.4" stroke-width="1.2" />
<line x1="273.45" y1="342.3" x2="304.3" y2="342.3" stroke-width="1.2" />
<path d="M301.8,342.3 C302.22,342.3 303.05,342.63 304.3,342.3 C305.55,341.97 307.67,341.17 309.3,340.3 C310.93,339.43 312.73,338.33 314.1,337.1 C315.47,335.87 316.93,333.6 317.49,332.9" stroke-width="1.15" />
<path d="M299,342.3 C299.39,343.12 300.55,345.86 301.31,347.19 C302.07,348.53 302.81,349.64 303.56,350.31 C304.3,350.98 304.95,351.22 305.8,351.2 C306.65,351.18 307.7,351.04 308.65,350.21 C309.6,349.39 310.55,347.89 311.5,346.27 C312.45,344.65 313.4,342.6 314.35,340.47 C315.3,338.34 316.25,335.66 317.2,333.51 C318.15,331.36 319.1,329.12 320.05,327.56 C321,326.01 321.95,325.01 322.9,324.17 C323.85,323.34 324.8,322.88 325.75,322.55 C326.7,322.22 327.7,322.09 328.6,322.2 C329.5,322.31 330.26,322.5 331.17,323.18 C332.08,323.87 333.19,325.1 334.06,326.3 C334.93,327.5 336.01,329.72 336.4,330.4" stroke-width="1.4" />
<path d="M307.4,351.4 C307.9,350.88 309.42,349.78 310.4,348.3 C311.38,346.82 312.64,343.58 313.3,342.5 C313.96,341.42 313.83,342.82 314.35,341.8 C314.87,340.78 316.09,337.26 316.44,336.35" stroke-width="1.4" />
<path d="M306.4,350.6 C306.83,350.07 308.1,348.93 309,347.43 C309.9,345.94 311.19,342.82 311.8,341.63 C312.41,340.44 311.99,341.35 312.65,340.3 C313.31,339.25 315.22,336.18 315.74,335.35" stroke-width="1.1" />
<path d="M314.65,340.8 C315.18,340.26 316.6,338.9 317.84,337.55 C319.08,336.2 320.87,333.79 322.09,332.7 C323.32,331.61 324.17,331.38 325.19,331 C326.21,330.62 327.69,330.5 328.19,330.4" stroke-width="1.15" />
<line x1="328.19" y1="330.4" x2="358.69" y2="330.4" stroke-width="1.2" />
<line x1="313.45" y1="342.3" x2="344.3" y2="342.3" stroke-width="1.2" />
<path d="M341.8,342.3 C342.22,342.3 343.05,342.63 344.3,342.3 C345.55,341.97 347.67,341.17 349.3,340.3 C350.93,339.43 352.73,338.33 354.1,337.1 C355.47,335.87 356.93,333.6 357.49,332.9" stroke-width="1.15" />
<path d="M339,342.3 C339.39,343.12 340.55,345.86 341.31,347.19 C342.07,348.53 342.81,349.64 343.56,350.31 C344.3,350.98 344.95,351.22 345.8,351.2 C346.65,351.18 347.7,351.04 348.65,350.21 C349.6,349.39 350.55,347.89 351.5,346.27 C352.45,344.65 353.4,342.6 354.35,340.47 C355.3,338.34 356.25,335.66 357.2,333.51 C358.15,331.36 359.1,329.12 360.05,327.56 C361,326.01 361.95,325.01 362.9,324.17 C363.85,323.34 364.8,322.88 365.75,322.55 C366.7,322.22 367.7,322.09 368.6,322.2 C369.5,322.31 370.26,322.5 371.17,323.18 C372.08,323.87 373.19,325.1 374.06,326.3 C374.93,327.5 376.01,329.72 376.4,330.4" stroke-width="1.4" />
<path d="M347.4,351.4 C347.9,350.88 349.42,349.78 350.4,348.3 C351.38,346.82 352.64,343.58 353.3,342.5 C353.96,341.42 353.83,342.82 354.35,341.8 C354.87,340.78 356.09,337.26 356.44,336.35" stroke-width="1.4" />
<path d="M346.4,350.6 C346.83,350.07 348.1,348.93 349,347.43 C349.9,345.94 351.19,342.82 351.8,341.63 C352.41,340.44 351.99,341.35 352.65,340.3 C353.31,339.25 355.22,336.18 355.74,335.35" stroke-width="1.1" />
<path d="M354.65,340.8 C355.18,340.26 356.6,338.9 357.84,337.55 C359.08,336.2 360.87,333.79 362.09,332.7 C363.32,331.61 364.17,331.38 365.19,331 C366.21,330.62 367.69,330.5 368.19,330.4" stroke-width="1.15" />
<line x1="368.19" y1="330.4" x2="398.69" y2="330.4" stroke-width="1.2" />
<line x1="353.45" y1="342.3" x2="384.3" y2="342.3" stroke-width="1.2" />
<path d="M381.8,342.3 C382.22,342.3 383.05,342.63 384.3,342.3 C385.55,341.97 387.67,341.17 389.3,340.3 C390.93,339.43 392.73,338.33 394.1,337.1 C395.47,335.87 396.93,333.6 397.49,332.9" stroke-width="1.15" />
<path d="M379,342.3 C379.39,343.12 380.55,345.86 381.31,347.19 C382.07,348.53 382.81,349.64 383.56,350.31 C384.3,350.98 384.95,351.22 385.8,351.2 C386.65,351.18 387.7,351.04 388.65,350.21 C389.6,349.39 390.55,347.89 391.5,346.27 C392.45,344.65 393.4,342.6 394.35,340.47 C395.3,338.34 396.25,335.66 397.2,333.51 C398.15,331.36 399.1,329.12 400.05,327.56 C401,326.01 401.95,325.01 402.9,324.17 C403.85,323.34 404.8,322.88 405.75,322.55 C406.7,322.22 407.7,322.09 408.6,322.2 C409.5,322.31 410.26,322.5 411.17,323.18 C412.08,323.87 413.19,325.1 414.06,326.3 C414.93,327.5 416.01,329.72 416.4,330.4" stroke-width="1.4" />
<path d="M387.4,351.4 C387.9,350.88 389.42,349.78 390.4,348.3 C391.38,346.82 392.64,343.58 393.3,342.5 C393.96,341.42 393.83,342.82 394.35,341.8 C394.87,340.78 396.09,337.26 396.44,336.35" stroke-width="1.4" />
<path d="M386.4,350.6 C386.83,350.07 388.1,348.93 389,347.43 C389.9,345.94 391.19,342.82 391.8,341.63 C392.41,340.44 391.99,341.35 392.65,340.3 C393.31,339.25 395.22,336.18 395.74,335.35" stroke-width="1.1" />
<path d="M394.65,340.8 C395.18,340.26 396.6,338.9 397.84,337.55 C399.08,336.2 400.87,333.79 402.09,332.7 C403.32,331.61 404.17,331.38 405.19,331 C406.21,330.62 407.69,330.5 408.19,330.4" stroke-width="1.15" />
<line x1="408.19" y1="330.4" x2="439.69" y2="330.4" stroke-width="1.2" />
<line x1="393.45" y1="342.3" x2="425.3" y2="342.3" stroke-width="1.2" />
<path d="M422.8,342.3 C423.22,342.3 424.05,342.63 425.3,342.3 C426.55,341.97 428.67,341.17 430.3,340.3 C431.93,339.43 433.73,338.33 435.1,337.1 C436.47,335.87 437.93,333.6 438.49,332.9" stroke-width="1.15" />
<path d="M420,342.3 C420.39,343.12 421.55,345.86 422.31,347.19 C423.07,348.53 423.81,349.64 424.56,350.31 C425.3,350.98 425.95,351.22 426.8,351.2 C427.65,351.18 428.7,351.04 429.65,350.21 C430.6,349.39 431.55,347.89 432.5,346.27 C433.45,344.65 434.4,342.6 435.35,340.47 C436.3,338.34 437.25,335.66 438.2,333.51 C439.15,331.36 440.1,329.12 441.05,327.56 C442,326.01 442.95,325.01 443.9,324.17 C444.85,323.34 445.8,322.88 446.75,322.55 C447.7,322.22 448.7,322.09 449.6,322.2 C450.5,322.31 451.26,322.5 452.17,323.18 C453.08,323.87 454.19,325.1 455.06,326.3 C455.93,327.5 457.01,329.72 457.4,330.4" stroke-width="1.4" />
<path d="M428.4,351.4 C428.9,350.88 430.42,349.78 431.4,348.3 C432.38,346.82 433.64,343.58 434.3,342.5 C434.96,341.42 434.83,342.82 435.35,341.8 C435.87,340.78 437.09,337.26 437.44,336.35" stroke-width="1.4" />
<path d="M427.4,350.6 C427.83,350.07 429.1,348.93 430,347.43 C430.9,345.94 432.19,342.82 432.8,341.63 C433.41,340.44 432.99,341.35 433.65,340.3 C434.31,339.25 436.22,336.18 436.74,335.35" stroke-width="1.1" />
<path d="M435.65,340.8 C436.18,340.26 437.6,338.9 438.84,337.55 C440.08,336.2 441.87,333.79 443.09,332.7 C444.32,331.61 445.17,331.38 446.19,331 C447.21,330.62 448.69,330.5 449.19,330.4" stroke-width="1.15" />
<line x1="449.19" y1="330.4" x2="480.69" y2="330.4" stroke-width="1.2" />
<line x1="434.45" y1="342.3" x2="466.3" y2="342.3" stroke-width="1.2" />
<path d="M463.8,342.3 C464.22,342.3 465.05,342.63 466.3,342.3 C467.55,341.97 469.67,341.17 471.3,340.3 C472.93,339.43 474.73,338.33 476.1,337.1 C477.47,335.87 478.93,333.6 479.49,332.9" stroke-width="1.15" />
<path d="M461,342.3 C461.39,343.12 462.55,345.86 463.31,347.19 C464.07,348.53 464.81,349.64 465.56,350.31 C466.3,350.98 466.95,351.22 467.8,351.2 C468.65,351.18 469.7,351.04 470.65,350.21 C471.6,349.39 472.55,347.89 473.5,346.27 C474.45,344.65 475.4,342.6 476.35,340.47 C477.3,338.34 478.25,335.66 479.2,333.51 C480.15,331.36 481.1,329.12 482.05,327.56 C483,326.01 483.95,325.01 484.9,324.17 C485.85,323.34 486.8,322.88 487.75,322.55 C488.7,322.22 489.7,322.09 490.6,322.2 C491.5,322.31 492.26,322.5 493.17,323.18 C494.08,323.87 495.19,325.1 496.06,326.3 C496.93,327.5 498.01,329.72 498.4,330.4" stroke-width="1.4" />
<path d="M469.4,351.4 C469.9,350.88 471.42,349.78 472.4,348.3 C473.38,346.82 474.64,343.58 475.3,342.5 C475.96,341.42 475.83,342.82 476.35,341.8 C476.87,340.78 478.09,337.26 478.44,336.35" stroke-width="1.4" />
<path d="M468.4,350.6 C468.83,350.07 470.1,348.93 471,347.43 C471.9,345.94 473.19,342.82 473.8,341.63 C474.41,340.44 473.99,341.35 474.65,340.3 C475.31,339.25 477.22,336.18 477.74,335.35" stroke-width="1.1" />
<path d="M476.65,340.8 C477.18,340.26 478.6,338.9 479.84,337.55 C481.08,336.2 482.87,333.79 484.09,332.7 C485.32,331.61 486.17,331.38 487.19,331 C488.21,330.62 489.69,330.5 490.19,330.4" stroke-width="1.15" />
<line x1="490.19" y1="330.4" x2="521.69" y2="330.4" stroke-width="1.2" />
<line x1="475.45" y1="342.3" x2="507.3" y2="342.3" stroke-width="1.2" />
<path d="M504.8,342.3 C505.22,342.3 506.05,342.63 507.3,342.3 C508.55,341.97 510.67,341.17 512.3,340.3 C513.93,339.43 515.73,338.33 517.1,337.1 C518.47,335.87 519.93,333.6 520.49,332.9" stroke-width="1.15" />
<path d="M502,342.3 C502.39,343.12 503.55,345.86 504.31,347.19 C505.07,348.53 505.81,349.64 506.56,350.31 C507.3,350.98 507.95,351.22 508.8,351.2 C509.65,351.18 510.7,351.04 511.65,350.21 C512.6,349.39 513.55,347.89 514.5,346.27 C515.45,344.65 516.4,342.6 517.35,340.47 C518.3,338.34 519.25,335.66 520.2,333.51 C521.15,331.36 522.1,329.12 523.05,327.56 C524,326.01 524.95,325.01 525.9,324.17 C526.85,323.34 527.8,322.88 528.75,322.55 C529.7,322.22 530.7,322.09 531.6,322.2 C532.5,322.31 533.26,322.5 534.17,323.18 C535.08,323.87 536.19,325.1 537.06,326.3 C537.93,327.5 539.01,329.72 539.4,330.4" stroke-width="1.4" />
<path d="M510.4,351.4 C510.9,350.88 512.42,349.78 513.4,348.3 C514.38,346.82 515.64,343.58 516.3,342.5 C516.96,341.42 516.83,342.82 517.35,341.8 C517.87,340.78 519.09,337.26 519.44,336.35" stroke-width="1.4" />
<path d="M509.4,350.6 C509.83,350.07 511.1,348.93 512,347.43 C512.9,345.94 514.19,342.82 514.8,341.63 C515.41,340.44 514.99,341.35 515.65,340.3 C516.31,339.25 518.22,336.18 518.74,335.35" stroke-width="1.1" />
<path d="M517.65,340.8 C518.18,340.26 519.6,338.9 520.84,337.55 C522.08,336.2 523.87,333.79 525.09,332.7 C526.32,331.61 527.17,331.38 528.19,331 C529.21,330.62 530.69,330.5 531.19,330.4" stroke-width="1.15" />
<line x1="531.19" y1="330.4" x2="561.19" y2="330.4" stroke-width="1.2" />
<line x1="516.45" y1="342.3" x2="546.8" y2="342.3" stroke-width="1.2" />
<path d="M544.3,342.3 C544.72,342.3 545.55,342.63 546.8,342.3 C548.05,341.97 550.17,341.17 551.8,340.3 C553.43,339.43 555.23,338.33 556.6,337.1 C557.97,335.87 559.43,333.6 559.99,332.9" stroke-width="1.15" />
<path d="M541.5,342.3 C541.89,343.12 543.05,345.86 543.81,347.19 C544.57,348.53 545.31,349.64 546.06,350.31 C546.8,350.98 547.45,351.22 548.3,351.2 C549.15,351.18 550.2,351.04 551.15,350.21 C552.1,349.39 553.05,347.89 554,346.27 C554.95,344.65 555.9,342.6 556.85,340.47 C557.8,338.34 558.75,335.66 559.7,333.51 C560.65,331.36 561.6,329.12 562.55,327.56 C563.5,326.01 564.45,325.01 565.4,324.17 C566.35,323.34 567.3,322.88 568.25,322.55 C569.2,322.22 570.2,322.09 571.1,322.2 C572,322.31 572.76,322.5 573.67,323.18 C574.58,323.87 575.69,325.1 576.56,326.3 C577.43,327.5 578.51,329.72 578.9,330.4" stroke-width="1.4" />
<path d="M549.9,351.4 C550.4,350.88 551.92,349.78 552.9,348.3 C553.88,346.82 555.14,343.58 555.8,342.5 C556.46,341.42 556.33,342.82 556.85,341.8 C557.37,340.78 558.59,337.26 558.94,336.35" stroke-width="1.4" />
<path d="M548.9,350.6 C549.33,350.07 550.6,348.93 551.5,347.43 C552.4,345.94 553.69,342.82 554.3,341.63 C554.91,340.44 554.49,341.35 555.15,340.3 C555.81,339.25 557.72,336.18 558.24,335.35" stroke-width="1.1" />
<path d="M557.15,340.8 C557.68,340.26 559.1,338.9 560.34,337.55 C561.58,336.2 563.37,333.79 564.59,332.7 C565.82,331.61 566.67,331.38 567.69,331 C568.71,330.62 570.19,330.5 570.69,330.4" stroke-width="1.15" />
<line x1="570.69" y1="330.4" x2="600.29" y2="330.4" stroke-width="1.2" />
<line x1="555.95" y1="342.3" x2="585.9" y2="342.3" stroke-width="1.2" />
<path d="M583.4,342.3 C583.82,342.3 584.65,342.63 585.9,342.3 C587.15,341.97 589.27,341.17 590.9,340.3 C592.53,339.43 594.33,338.33 595.7,337.1 C597.07,335.87 598.53,333.6 599.09,332.9" stroke-width="1.15" />
<path d="M580.6,342.3 C580.99,343.12 582.15,345.86 582.91,347.19 C583.67,348.53 584.41,349.64 585.16,350.31 C585.9,350.98 586.55,351.22 587.4,351.2 C588.25,351.18 589.3,351.04 590.25,350.21 C591.2,349.39 592.15,347.89 593.1,346.27 C594.05,344.65 595,342.6 595.95,340.47 C596.9,338.34 597.85,335.66 598.8,333.51 C599.75,331.36 600.7,329.12 601.65,327.56 C602.6,326.01 603.55,325.01 604.5,324.17 C605.45,323.34 606.4,322.88 607.35,322.55 C608.3,322.22 609.3,322.09 610.2,322.2 C611.1,322.31 611.86,322.5 612.77,323.18 C613.68,323.87 614.79,325.1 615.66,326.3 C616.53,327.5 617.61,329.72 618,330.4" stroke-width="1.4" />
<path d="M589,351.4 C589.5,350.88 591.02,349.78 592,348.3 C592.98,346.82 594.24,343.58 594.9,342.5 C595.56,341.42 595.43,342.82 595.95,341.8 C596.47,340.78 597.69,337.26 598.04,336.35" stroke-width="1.4" />
<path d="M588,350.6 C588.43,350.07 589.7,348.93 590.6,347.43 C591.5,345.94 592.79,342.82 593.4,341.63 C594.01,340.44 593.59,341.35 594.25,340.3 C594.91,339.25 596.82,336.18 597.34,335.35" stroke-width="1.1" />
<path d="M596.25,340.8 C596.78,340.26 598.2,338.9 599.44,337.55 C600.68,336.2 602.47,333.79 603.69,332.7 C604.92,331.61 605.77,331.38 606.79,331 C607.81,330.62 609.29,330.5 609.79,330.4" stroke-width="1.15" />
<line x1="609.79" y1="330.4" x2="621.1" y2="330.4" stroke-width="1.2" />
<line x1="595.05" y1="342.3" x2="619.1" y2="342.3" stroke-width="1.2" />
<line x1="85.5" y1="330.4" x2="115.69" y2="330.4" stroke-width="1.2" />
<line x1="85.5" y1="342.3" x2="101.3" y2="342.3" stroke-width="1.2" />
<path d="M98.8,342.3 C99.22,342.3 100.05,342.63 101.3,342.3 C102.55,341.97 104.67,341.17 106.3,340.3 C107.93,339.43 109.73,338.33 111.1,337.1 C112.47,335.87 113.93,333.6 114.49,332.9" stroke-width="1.15" />
</g>
<line x1="54.5" y1="330.6" x2="85.5" y2="330.5" stroke-width="1.3" />
<line x1="76.1" y1="331.9" x2="85.5" y2="331.9" stroke-width="0.9" />
<line x1="48" y1="341.5" x2="76.1" y2="341.5" stroke-width="1.3" />
<path d="M54.6,324.4 C54.3,324.87 52.83,326.17 52.8,327.2 C52.77,328.23 54,329.6 54.4,330.6 C54.8,331.6 55.68,332.28 55.2,333.2 C54.72,334.12 52.73,335.13 51.5,336.1 C50.27,337.07 48.35,338.08 47.8,339 C47.25,339.92 47.95,340.8 48.2,341.6 C48.45,342.4 49.12,343.43 49.3,343.8" stroke-width="1.2" />
<line x1="630.4" y1="295.6" x2="640" y2="295.6" stroke-width="1.2" />
<line x1="630.4" y1="306.2" x2="640" y2="306.2" stroke-width="1.2" />
<line x1="630.4" y1="330.2" x2="640" y2="330.2" stroke-width="1.2" />
<line x1="630.4" y1="342.2" x2="640" y2="342.2" stroke-width="1.2" />
<rect x="640" y="282.2" width="10.6" height="36.5" fill="#fff" stroke-width="1.8"/>
<line x1="640" y1="284.61" x2="650.6" y2="284.61" stroke-width="1.0" />
<line x1="640" y1="286.66" x2="650.6" y2="286.66" stroke-width="1.0" />
<line x1="640" y1="288.8" x2="650.6" y2="288.8" stroke-width="1.0" />
<line x1="640" y1="291.03" x2="650.6" y2="291.03" stroke-width="1.0" />
<line x1="640" y1="293.33" x2="650.6" y2="293.33" stroke-width="1.0" />
<line x1="640" y1="295.67" x2="650.6" y2="295.67" stroke-width="1.0" />
<line x1="640" y1="298.05" x2="650.6" y2="298.05" stroke-width="1.0" />
<line x1="640" y1="300.45" x2="650.6" y2="300.45" stroke-width="1.0" />
<line x1="640" y1="302.85" x2="650.6" y2="302.85" stroke-width="1.0" />
<line x1="640" y1="305.23" x2="650.6" y2="305.23" stroke-width="1.0" />
<line x1="640" y1="307.57" x2="650.6" y2="307.57" stroke-width="1.0" />
<line x1="640" y1="309.87" x2="650.6" y2="309.87" stroke-width="1.0" />
<line x1="640" y1="312.1" x2="650.6" y2="312.1" stroke-width="1.0" />
<line x1="640" y1="314.24" x2="650.6" y2="314.24" stroke-width="1.0" />
<line x1="640" y1="316.29" x2="650.6" y2="316.29" stroke-width="1.0" />
<rect x="640" y="282.2" width="10.6" height="3.65" fill="#000" stroke="none" opacity="0.25"/>
<rect x="640" y="315.05" width="10.6" height="3.65" fill="#000" stroke="none" opacity="0.55"/>
<rect x="640" y="321.1" width="10.8" height="36.3" fill="#fff" stroke-width="1.8"/>
<line x1="640" y1="323.42" x2="650.8" y2="323.42" stroke-width="1.0" />
<line x1="640" y1="325.47" x2="650.8" y2="325.47" stroke-width="1.0" />
<line x1="640" y1="327.61" x2="650.8" y2="327.61" stroke-width="1.0" />
<line x1="640" y1="329.83" x2="650.8" y2="329.83" stroke-width="1.0" />
<line x1="640" y1="332.13" x2="650.8" y2="332.13" stroke-width="1.0" />
<line x1="640" y1="334.47" x2="650.8" y2="334.47" stroke-width="1.0" />
<line x1="640" y1="336.85" x2="650.8" y2="336.85" stroke-width="1.0" />
<line x1="640" y1="339.25" x2="650.8" y2="339.25" stroke-width="1.0" />
<line x1="640" y1="341.65" x2="650.8" y2="341.65" stroke-width="1.0" />
<line x1="640" y1="344.03" x2="650.8" y2="344.03" stroke-width="1.0" />
<line x1="640" y1="346.37" x2="650.8" y2="346.37" stroke-width="1.0" />
<line x1="640" y1="348.67" x2="650.8" y2="348.67" stroke-width="1.0" />
<line x1="640" y1="350.89" x2="650.8" y2="350.89" stroke-width="1.0" />
<line x1="640" y1="353.03" x2="650.8" y2="353.03" stroke-width="1.0" />
<line x1="640" y1="355.08" x2="650.8" y2="355.08" stroke-width="1.0" />
<rect x="640" y="321.1" width="10.8" height="3.63" fill="#000" stroke="none" opacity="0.35"/>
<rect x="640" y="353.77" width="10.8" height="3.63" fill="#000" stroke="none" opacity="0.5"/>
</g>
<line x1="319" y1="300.5" x2="339" y2="300.4" stroke-width="1.3" />
<path d="M317.6,300.5 L324.2,298.2 L324.2,302.8 Z" fill="#111" stroke="none"/>
<line x1="330" y1="335.7" x2="349" y2="335.6" stroke-width="1.3" />
<path d="M350.6,335.6 L344,333.3 L344,337.9 Z" fill="#111" stroke="none"/>
<text transform="translate(289.2,266) scale(0.819,1)" font-size="16.29">5</text>
<path d="M289.3,268.6 C288.25,271.17 284.97,278.77 283,284 C281.03,289.23 278.77,294.5 277.5,300 C276.23,305.5 275.75,314.17 275.4,317" stroke-width="1.1" />
<text transform="translate(391.2,266) scale(0.848,1)" font-size="16.29">7a</text>
<path d="M395.7,267.4 C394.42,269.17 390.12,274.73 388,278 C385.88,281.27 384.1,283.83 383,287 C381.9,290.17 381.67,295.33 381.4,297" stroke-width="1.1" />
<text transform="translate(427.1,266) scale(0.780,1)" font-size="16.29">7b</text>
<path d="M431.9,267.9 C430.92,269.25 427.73,273.32 426,276 C424.27,278.68 422.73,281.43 421.5,284 C420.27,286.57 419.08,290.17 418.6,291.4" stroke-width="1.1" />
<text transform="translate(459.8,265.2) scale(0.708,1)" font-size="16.29">7</text>
<path d="M458.9,265 C458.25,266.33 456.23,270.33 455,273 C453.77,275.67 452.52,278.33 451.5,281 C450.48,283.67 449.33,287.67 448.9,289" stroke-width="1.1" />
<rect x="493.3" y="286" width="9" height="12" fill="#fff" stroke="none"/>
<text transform="translate(494.1,296.6) scale(0.873,1)" font-size="14.86">3</text>
<line x1="494" y1="299.4" x2="501.6" y2="299.4" stroke-width="1.1" />
<text transform="translate(618.8,260) scale(0.831,1)" font-size="15.43">1a</text>
<path d="M615.6,259.2 C614.75,259.67 611.93,260.62 610.5,262 C609.07,263.38 607.7,265.28 607,267.5 C606.3,269.72 606.42,274 606.3,275.3" stroke-width="1.1" />
<text transform="translate(671.4,284) scale(0.697,1)" font-size="16.29">G11</text>
<path d="M670.4,279 C669,279.17 664.57,279.17 662,280 C659.43,280.83 656.93,282.45 655,284 C653.07,285.55 651.17,288.42 650.4,289.3" stroke-width="1.1" />
<text transform="translate(673.5,327.6) scale(0.737,1)" font-size="16.29">G12</text>
<path d="M672.9,323.6 C671.42,323.75 666.73,323.68 664,324.5 C661.27,325.32 658.7,326.98 656.5,328.5 C654.3,330.02 651.75,332.75 650.8,333.6" stroke-width="1.1" />
<text transform="translate(27.8,306) scale(0.786,1)" font-size="16.29">1c</text>
<path d="M41.4,300 C43.5,299.88 49.57,298.72 54,299.3 C58.43,299.88 63.43,301.6 68,303.5 C72.57,305.4 79.17,309.5 81.4,310.7" stroke-width="1.1" />
<text transform="translate(62.6,389.7) scale(0.810,1)" font-size="16.29">5a</text>
<path d="M70.7,375 C71,372.83 71.67,366.28 72.5,362 C73.33,357.72 73.97,353.8 75.7,349.3 C77.43,344.8 79.8,339.53 82.9,335 C86,330.47 92.4,324.25 94.3,322.1" stroke-width="1.1" stroke-dasharray="13 2.5"/>
<text transform="translate(103.1,389.7) scale(0.873,1)" font-size="16.29">5c</text>
<line x1="109" y1="358.6" x2="109" y2="376" stroke-width="1.5" stroke-dasharray="1.7 2.3"/>
<text transform="translate(420.6,389.4) scale(0.808,1)" font-size="16.29">8b</text>
<path d="M428.6,374.3 C428.1,373.08 426.2,369.55 425.6,367 C425,364.45 424.92,361.6 425,359 C425.08,356.4 425.92,352.67 426.1,351.4" stroke-width="1.1" />
<text transform="translate(449.5,385.8) scale(0.826,1)" font-size="16.29">8a</text>
<path d="M454.3,370.7 C453.72,368.75 451.47,362.95 450.8,359 C450.13,355.05 449.83,351 450.3,347 C450.77,343 453.05,337 453.6,335" stroke-width="1.1" />
<text transform="translate(482.6,390) scale(0.763,1)" font-size="16.29">8</text>
<line x1="484.3" y1="375" x2="483.7" y2="348.6" stroke-width="1.1" />
<rect x="528.6" y="340" width="10" height="13.2" fill="#fff" stroke="none"/>
<text transform="translate(529.5,352) scale(0.912,1)" font-size="16">4</text>
<line x1="530" y1="354.8" x2="538" y2="354.8" stroke-width="1.1" />
<text transform="translate(579.5,386.5) scale(0.846,1)" font-size="16.29">5b</text>
<path d="M582.9,372.9 C582.67,371.08 581.78,365.48 581.5,362 C581.22,358.52 581.18,355 581.2,352 C581.22,349 581.07,346.17 581.6,344 C582.13,341.83 583.13,341.15 584.4,339 C585.67,336.85 586.97,333.92 589.2,331.1 C591.43,328.28 596.37,323.6 597.8,322.1" stroke-width="1.1" />
<text transform="translate(333.1,453.8) scale(1.033,1)" font-size="17.3" style="stroke:none">ФИГ. 8</text>
</g>
</svg>
</body></html>
